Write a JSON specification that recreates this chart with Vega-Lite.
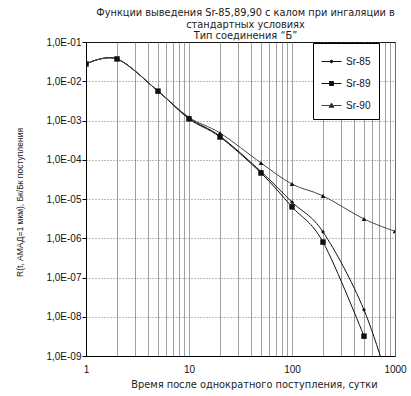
{
  "$schema": "https://vega.github.io/schema/vega-lite/v6.json",
  "width": 309,
  "height": 314,
  "autosize": {"type": "none"},
  "padding": {"left": 86, "top": 42, "right": 16, "bottom": 40},
  "background": "white",
  "title": {
    "text": ["Функции выведения Sr-85,89,90 с калом при ингаляции в", "стандартных условиях", "Тип соединения “Б”"],
    "anchor": "middle",
    "dx": 5,
    "offset": -4,
    "fontSize": 9.8,
    "fontWeight": "normal",
    "font": "DejaVu Sans",
    "lineHeight": 11.5,
    "color": "#222"
  },
  "config": {
    "font": "Liberation Sans",
    "view": {"stroke": "#000", "strokeWidth": 1},
    "axis": {
      "labelFont": "Liberation Sans",
      "titleFont": "Liberation Sans",
      "labelColor": "#111",
      "titleColor": "#222",
      "domainColor": "#000",
      "tickColor": "#000",
      "titleFontWeight": "normal"
    }
  },
  "data": {
    "values": [
      {"t": 1, "iso": "Sr-85", "r": 0.0275},
      {"t": 2, "iso": "Sr-85", "r": 0.037},
      {"t": 5, "iso": "Sr-85", "r": 0.0056},
      {"t": 10, "iso": "Sr-85", "r": 0.00115},
      {"t": 20, "iso": "Sr-85", "r": 0.0004},
      {"t": 50, "iso": "Sr-85", "r": 0.00005},
      {"t": 100, "iso": "Sr-85", "r": 0.0000083},
      {"t": 200, "iso": "Sr-85", "r": 0.00000145},
      {"t": 500, "iso": "Sr-85", "r": 0.000000015},
      {"t": 1000, "iso": "Sr-85", "r": 0.00000000006},
      {"t": 1, "iso": "Sr-89", "r": 0.0275},
      {"t": 2, "iso": "Sr-89", "r": 0.037},
      {"t": 5, "iso": "Sr-89", "r": 0.0056},
      {"t": 10, "iso": "Sr-89", "r": 0.0011},
      {"t": 20, "iso": "Sr-89", "r": 0.00038},
      {"t": 50, "iso": "Sr-89", "r": 0.000046},
      {"t": 100, "iso": "Sr-89", "r": 0.0000063},
      {"t": 200, "iso": "Sr-89", "r": 0.0000008},
      {"t": 500, "iso": "Sr-89", "r": 0.0000000032},
      {"t": 1, "iso": "Sr-90", "r": 0.0275},
      {"t": 2, "iso": "Sr-90", "r": 0.037},
      {"t": 5, "iso": "Sr-90", "r": 0.0056},
      {"t": 10, "iso": "Sr-90", "r": 0.0012},
      {"t": 20, "iso": "Sr-90", "r": 0.00048},
      {"t": 50, "iso": "Sr-90", "r": 0.000083},
      {"t": 100, "iso": "Sr-90", "r": 0.000024},
      {"t": 200, "iso": "Sr-90", "r": 0.000012},
      {"t": 500, "iso": "Sr-90", "r": 0.0000031},
      {"t": 1000, "iso": "Sr-90", "r": 0.0000015}
    ]
  },
  "encoding": {
    "x": {
      "field": "t",
      "type": "quantitative",
      "scale": {"type": "log", "domain": [1, 1000], "nice": false},
      "axis": {
        "values": [1, 2, 3, 4, 5, 6, 7, 8, 9, 10, 20, 30, 40, 50, 60, 70, 80, 90, 100, 200, 300, 400, 500, 600, 700, 800, 900, 1000],
        "labelExpr": "indexof([1, 10, 100, 1000], datum.value) >= 0 ? datum.value : ''",
        "grid": true,
        "gridColor": "#888",
        "gridWidth": 0.8,
        "gridOpacity": 1,
        "ticks": false,
        "labelFontSize": 10,
        "labelPadding": 8,
        "labelFlush": false,
        "title": "Время после однократного поступления, сутки",
        "titleFont": "DejaVu Sans",
        "titleFontSize": 9.8,
        "titlePadding": 5,
        "titleX": 168
      }
    },
    "y": {
      "field": "r",
      "type": "quantitative",
      "scale": {"type": "log", "domain": [1e-9, 0.1], "nice": false},
      "axis": {
        "values": [1e-9, 1e-8, 1e-7, 1e-6, 1e-5, 1e-4, 1e-3, 1e-2, 1e-1],
        "labelExpr": "'1,0E-0' + round(-log(datum.value) / LN10)",
        "grid": true,
        "gridColor": "#555",
        "gridDash": [1, 2],
        "gridWidth": 0.8,
        "gridOpacity": 1,
        "tickSize": 4,
        "labelFontSize": 10,
        "labelPadding": 1,
        "title": "R(t, АМАД=1 мкм), Бк/Бк поступления",
        "titleFontSize": 8.5,
        "titleX": -62,
        "titleY": 160
      }
    }
  },
  "layer": [
    {
      "mark": {"type": "line", "interpolate": "cardinal", "tension": 0, "clip": true},
      "encoding": {
        "color": {
          "field": "iso",
          "type": "nominal",
          "scale": {"domain": ["Sr-85", "Sr-89", "Sr-90"], "range": ["#111", "#111", "#444"]},
          "legend": {
            "title": null,
            "orient": "none",
            "legendX": 227,
            "legendY": 1,
            "fillColor": "white",
            "strokeColor": "#000",
            "padding": 8,
            "rowPadding": 6,
            "labelFontSize": 10,
            "labelFont": "Liberation Sans",
            "labelColor": "#111",
            "symbolSize": 400,
            "symbolStrokeWidth": 1,
            "labelOffset": 4,
            "encode": {
              "symbols": {
                "update": {
                  "shape": {"signal": "datum.value === 'Sr-85' ? 'M-1,0H1M-0.13,0A0.13,0.13 0 1,0 0.13,0A0.13,0.13 0 1,0 -0.13,0Z' : datum.value === 'Sr-89' ? 'M-1,0H1M-0.2,-0.2H0.2V0.2H-0.2Z' : 'M-1,0H1M0,-0.25L0.25,0.18H-0.25Z'"},
                  "fill": {"value": "#111"},
                  "stroke": {"value": "#111"}
                }
              }
            }
          }
        },
        "strokeWidth": {
          "field": "iso",
          "type": "nominal",
          "scale": {"domain": ["Sr-85", "Sr-89", "Sr-90"], "range": [1, 1, 0.7]},
          "legend": null
        }
      }
    },
    {
      "transform": [{"filter": "datum.iso === 'Sr-85'"}],
      "mark": {"type": "point", "filled": true, "opacity": 1, "clip": true, "color": "#111", "shape": "circle", "size": 10}
    },
    {
      "transform": [{"filter": "datum.iso === 'Sr-89'"}],
      "mark": {"type": "point", "filled": true, "opacity": 1, "clip": true, "color": "#111", "shape": "square", "size": 30}
    },
    {
      "transform": [{"filter": "datum.iso === 'Sr-90'"}],
      "mark": {"type": "point", "filled": true, "opacity": 1, "clip": true, "color": "#111", "shape": "triangle-up", "size": 22}
    }
  ]
}
